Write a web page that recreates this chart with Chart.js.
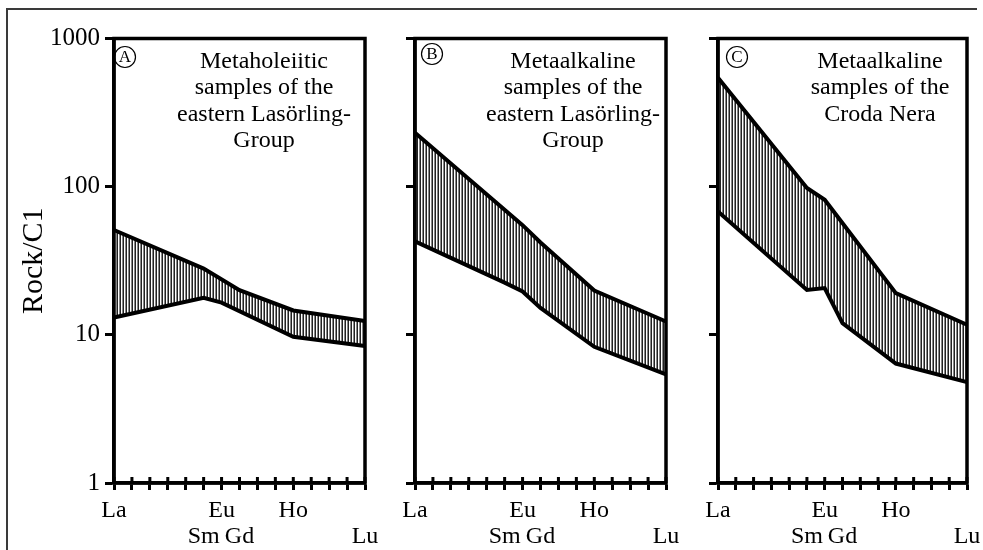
<!DOCTYPE html>
<html><head><meta charset="utf-8">
<script src="https://cdn.jsdelivr.net/npm/chart.js@4/dist/chart.umd.min.js"></script>
<style>
html,body{margin:0;padding:0;background:#fff;}
#wrap{position:relative;width:983px;height:550px;overflow:hidden;background:#fff;}
#frame{position:absolute;left:6px;top:8px;width:969px;height:560px;border-left:2px solid #3a3a3a;border-top:2px solid #3a3a3a;}
canvas{position:absolute;top:0;}
</style></head><body>
<div id="wrap"><div id="frame"></div>
<canvas id="cA" width="390" height="550" style="left:0px"></canvas>
<canvas id="cB" width="300" height="550" style="left:390px"></canvas>
<canvas id="cC" width="300" height="550" style="left:690px"></canvas>
</div>
<script>
// REE elements (x categories)
const elements = ['La','Ce','Pr','Nd','Pm','Sm','Eu','Gd','Tb','Dy','Ho','Er','Tm','Yb','Lu'];
// x tick labels, two rows
const xRow1 = ['La','','','','','','Eu','','','','Ho','','','',''];
const xRow2 = ['','','','','','Sm','','Gd','','','','','','','Lu'];
// y ticks
const yTicks = [1, 10, 100, 1000];
const yTickLabels = ['1', '10', '100', '1000'];

// Panel A: Metaholeiitic, eastern Lasörling-Group (upper / lower envelope)
const aUpper = [51, null, null, null, null, 28, null, 20, null, null, 14.6, null, null, null, 12.4];
const aLower = [13.1, null, null, null, null, 17.8, 16.5, null, null, null, 9.7, null, null, null, 8.4];
// Panel B: Metaalkaline, eastern Lasörling-Group
const bUpper = [231, null, null, null, null, null, 55, 42, null, null, 19.9, null, null, null, 12.3];
const bLower = [42.7, null, null, null, null, 22.5, 19.6, 15.2, null, null, 8.3, null, null, null, 5.4];
// Panel C: Metaalkaline, Croda Nera
const cUpper = [543, null, null, null, null, 98, 81.6, null, null, null, 19.1, null, null, null, 11.7];
const cLower = [68, null, null, null, null, 20.1, 20.7, 12, null, null, 6.4, null, null, null, 4.8];

const titleA = ['Metaholeiitic', 'samples of the', 'eastern Lasörling-', 'Group'];
const titleB = ['Metaalkaline', 'samples of the', 'eastern Lasörling-', 'Group'];
const titleC = ['Metaalkaline', 'samples of the', 'Croda Nera'];

const FONT = '"Liberation Serif", "Times New Roman", serif';

// vertical hatch pattern
const pc = document.createElement('canvas'); pc.width = 3; pc.height = 1;
const pctx = pc.getContext('2d');
pctx.fillStyle = '#fff'; pctx.fillRect(0, 0, 3, 1);
pctx.fillStyle = '#222'; pctx.fillRect(0, 0, 1, 1);
pctx.fillStyle = '#888'; pctx.fillRect(2, 0, 1, 1);

const panelPlugin = {
  id: 'panel',
  afterDatasetsDraw(chart, args, opts) {
    const ctx = chart.ctx, a = chart.chartArea;
    ctx.save();
    ctx.strokeStyle = '#000'; ctx.lineWidth = 3.5;
    ctx.strokeRect(a.left, a.top, a.right - a.left, a.bottom - a.top);
    const xs = chart.scales.x;
    ctx.lineWidth = 3;
    ctx.beginPath();
    for (let i = 0; i < xs.ticks.length; i++) {
      const px = xs.getPixelForTick(i);
      ctx.moveTo(px, a.bottom - 6); ctx.lineTo(px, a.bottom);
    }
    ctx.stroke();
    // circled letter
    ctx.lineWidth = 1.2;
    ctx.beginPath();
    ctx.arc(a.left + opts.cx, a.top + opts.cy, 10.5, 0, Math.PI * 2);
    ctx.stroke();
    ctx.fillStyle = '#000';
    ctx.font = '17px ' + FONT; ctx.textAlign = 'center'; ctx.textBaseline = 'middle';
    ctx.fillText(opts.letter, a.left + opts.cx, a.top + opts.cy + 1);
    // panel title
    ctx.font = '24px ' + FONT; ctx.textBaseline = 'alphabetic';
    opts.lines.forEach((t, i) => ctx.fillText(t, a.left + opts.dx, a.top + 29.5 + i * 26.3));
    ctx.restore();
  }
};

function makeChart(id, upper, lower, o) {
  const hatch = document.getElementById(id).getContext('2d').createPattern(pc, 'repeat');
  return new Chart(document.getElementById(id), {
    type: 'line',
    data: {
      labels: elements,
      datasets: [
        { data: upper, borderColor: '#000', borderWidth: 4, pointRadius: 0, fill: '+1',
          backgroundColor: hatch, spanGaps: true, tension: 0, clip: 4 },
        { data: lower, borderColor: '#000', borderWidth: 4, pointRadius: 0, fill: false,
          spanGaps: true, tension: 0, clip: 4 }
      ]
    },
    options: {
      responsive: false, animation: false, devicePixelRatio: 1,
      layout: { padding: { top: 38.5, right: o.padR, left: 0, bottom: 0 } },
      plugins: {
        legend: { display: false }, tooltip: { enabled: false },
        filler: { drawTime: 'beforeDatasetsDraw' },
        panel: { letter: o.letter, lines: o.lines, dx: o.dx, cx: o.cx, cy: o.cy }
      },
      scales: {
        x: {
          type: 'category', offset: false,
          afterFit: s => { s.height = 67; },
          grid: { drawOnChartArea: false, tickLength: 7, tickWidth: 3, tickColor: '#000', offset: false },
          border: { display: true, color: '#000', width: 3.5 },
          ticks: { autoSkip: false, maxRotation: 0, minRotation: 0, padding: 8, color: '#000',
            font: { family: FONT, size: 24, lineHeight: '26px' },
            callback: (v, i) => [xRow1[i], xRow2[i]] }
        },
        y: {
          type: 'logarithmic', min: 1, max: 1000,
          afterBuildTicks: s => { s.ticks = yTicks.map(v => ({ value: v })); },
          afterFit: s => { s.width = o.yWidth; },
          grid: { drawOnChartArea: false, tickLength: 9, tickWidth: 3, tickColor: '#000' },
          border: { display: true, color: '#000', width: 3.5 },
          ticks: { color: '#000', padding: 5, font: { family: FONT, size: 25 },
            callback: (v, i) => o.showY ? yTickLabels[i] : '' },
          title: { display: o.showY, text: 'Rock/C1', color: '#000',
            font: { family: FONT, size: 30 }, padding: { top: 16, bottom: 0 } }
        }
      }
    },
    plugins: [panelPlugin]
  });
}

makeChart('cA', aUpper, aLower, { padR: 25, yWidth: 114, showY: true, letter: 'A', lines: titleA, dx: 150, cx: 11, cy: 18.5 });
makeChart('cB', bUpper, bLower, { padR: 24, yWidth: 25, showY: false, letter: 'B', lines: titleB, dx: 158, cx: 17, cy: 15.5 });
makeChart('cC', cUpper, cLower, { padR: 23, yWidth: 28, showY: false, letter: 'C', lines: titleC, dx: 162, cx: 19, cy: 18.5 });
</script>
</body></html>
